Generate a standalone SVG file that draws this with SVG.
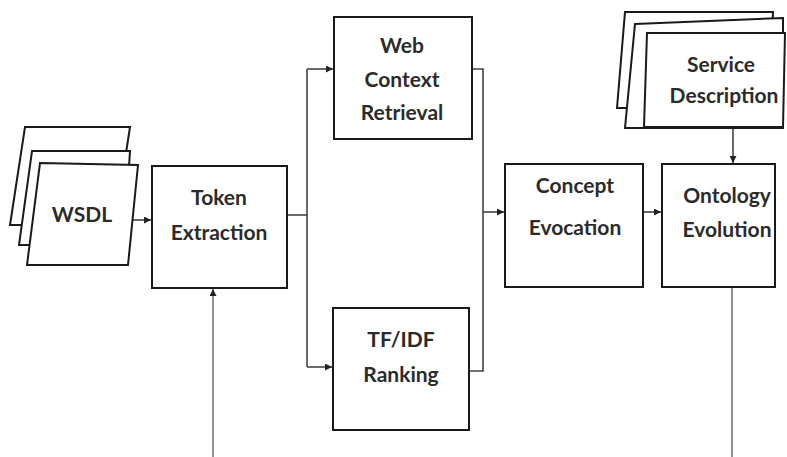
<svg xmlns="http://www.w3.org/2000/svg" width="787" height="457" viewBox="0 0 787 457">
<style>
.box{fill:#fff;stroke:#1a1a1a;stroke-width:2}
.sheet{fill:#fff;stroke:#1a1a1a;stroke-width:2;stroke-linejoin:miter}
.lbl{font-family:Lato,"Open Sans","Liberation Sans",sans-serif;font-weight:700;font-size:21px;fill:#2b2b2b;text-anchor:middle}
.con{fill:none;stroke:#444;stroke-width:1.6}
.con2{fill:none;stroke:#777;stroke-width:1.6}
</style>
<defs>
<marker id="ah" viewBox="0 0 10 10" refX="10" refY="5" markerWidth="7" markerHeight="7" markerUnits="userSpaceOnUse" orient="auto">
<path d="M0,0 L10,5 L0,10 z" fill="#222"/>
</marker>
</defs>
<rect width="787" height="457" fill="#fff"/>

<g id="connectors">
<path class="con" d="M131,220 H151" marker-end="url(#ah)"/>
<path class="con" d="M287,215 H307"/>
<path class="con" d="M307,69 V367"/>
<path class="con" d="M307,69 H333" marker-end="url(#ah)"/>
<path class="con" d="M307,367 H332" marker-end="url(#ah)"/>
<path class="con" d="M472,69 H483 V371 H469"/>
<path class="con" d="M483,212 H504" marker-end="url(#ah)"/>
<path class="con" d="M643,212 H661" marker-end="url(#ah)"/>
<path class="con" d="M733,128 V163" marker-end="url(#ah)"/>
<path class="con2" d="M213,457 V289" marker-end="url(#ah)"/>
<path class="con2" d="M732,287 V457"/>
</g>

<g id="wsdl">
<polygon class="sheet" points="25,127 130,127 115,225 10,225"/>
<polygon class="sheet" points="32,151 130,151 124,245 19,245"/>
<polygon class="sheet" points="40,163 138,165 128,265 27,265"/>
<text class="lbl" x="82" y="222">WSDL</text>
</g>

<g id="token-extraction">
<rect class="box" x="152" y="166" width="135" height="122"/>
<text class="lbl" x="219" y="205">Token</text>
<text class="lbl" x="219" y="240">Extraction</text>
</g>

<g id="web-context-retrieval">
<rect class="box" x="334" y="17" width="138" height="122"/>
<text class="lbl" x="402" y="53">Web</text>
<text class="lbl" x="402" y="87">Context</text>
<text class="lbl" x="402" y="120">Retrieval</text>
</g>

<g id="tfidf-ranking">
<rect class="box" x="333" y="308" width="136" height="122"/>
<text class="lbl" x="401" y="347">TF/IDF</text>
<text class="lbl" x="401" y="382">Ranking</text>
</g>

<g id="concept-evocation">
<rect class="box" x="505" y="164" width="138" height="123"/>
<text class="lbl" x="575" y="193">Concept</text>
<text class="lbl" x="575" y="235">Evocation</text>
</g>

<g id="ontology-evolution">
<rect class="box" x="662" y="164" width="113" height="123"/>
<text class="lbl" x="727" y="203">Ontology</text>
<text class="lbl" x="727" y="237">Evolution</text>
</g>

<g id="service-description">
<polygon class="sheet" points="625,12 773,12 770,108 617,108"/>
<polygon class="sheet" points="635,24 783,18 783,128 625,128"/>
<polygon class="sheet" points="647,33 785,33 783,127 644,127"/>
<text class="lbl" x="721" y="72">Service</text>
<text class="lbl" x="724" y="103">Description</text>
</g>
</svg>
